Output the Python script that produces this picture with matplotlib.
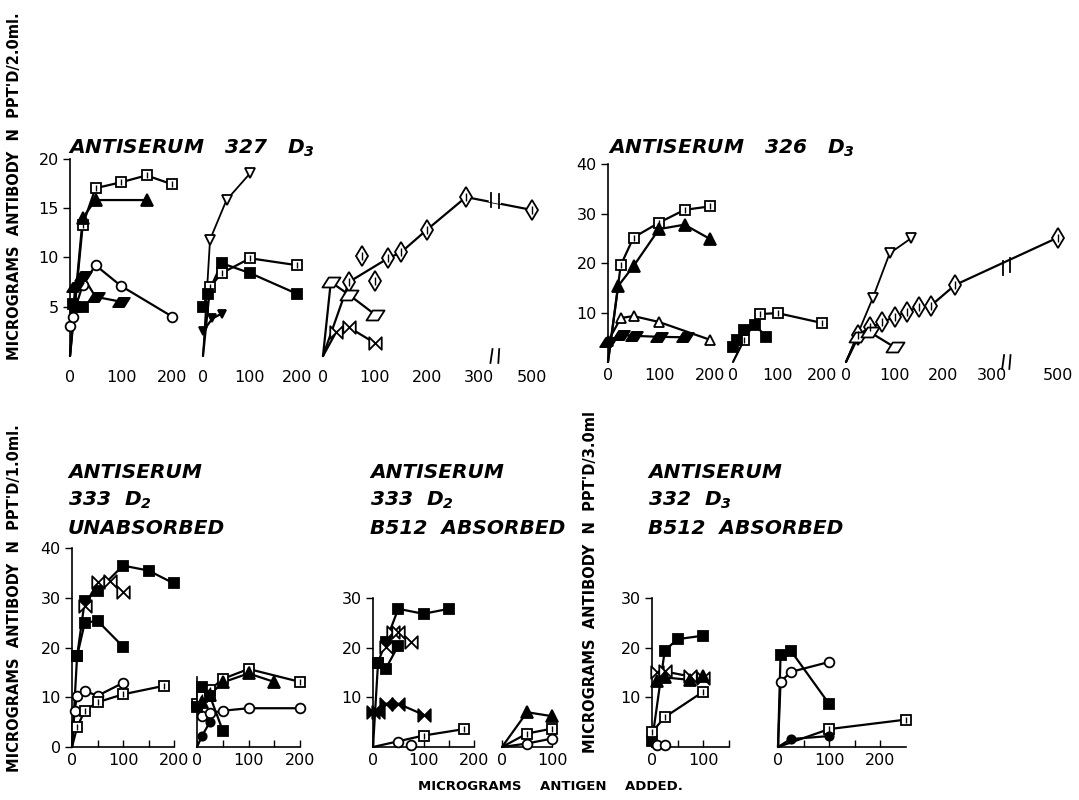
import numpy as np
import matplotlib
matplotlib.use("Agg")
import matplotlib.pyplot as plt
from matplotlib.path import Path

# ---------------- data ----------------
# Antiserum 327 D3 -- sub-panel 1
tl1_dsq_x = [0, 25, 50, 100, 150, 200]
tl1_dsq_y = [0, 13.3, 17.0, 17.6, 18.3, 17.4]
tl1_tri_x = [0, 25, 50, 150]
tl1_tri_y = [0, 14.0, 15.8, 15.8]
tl1_circ_x = [0, 5, 25, 50, 100, 200]
tl1_circ_y = [3.0, 4.0, 7.2, 9.2, 7.1, 4.0]
tl1_fpar_x = [0, 10, 25, 50, 100]
tl1_fpar_y = [0, 7.0, 8.1, 6.0, 5.5]
tl1_fsq_x = [5, 10, 25]
tl1_fsq_y = [5.3, 5.0, 5.0]
# sub-panel 2
tl2_tridn_x = [0, 15, 50, 100]
tl2_tridn_y = [0, 11.8, 15.8, 18.5]
tl2_dsq_x = [0, 15, 40, 100, 200]
tl2_dsq_y = [0, 7.0, 8.4, 9.9, 9.2]
tl2_fsq_x = [0, 10, 40, 100, 200]
tl2_fsq_y = [5.0, 6.3, 9.4, 8.4, 6.3]
tl2_ftri_x = [0, 20, 40]
tl2_ftri_y = [2.5, 3.8, 4.3]
# sub-panel 3 (broken axis)
tl3_dia_x = [0, 50, 125, 150, 200, 275, 500]
tl3_dia_y = [0, 7.5, 9.9, 10.5, 12.8, 16.1, 14.8]
tl3_dia_off_x = [75, 100]
tl3_dia_off_y = [10.1, 7.6]
tl3_opar_x = [0, 15, 50, 100]
tl3_opar_y = [0, 7.5, 6.2, 4.2]
tl3_bow_x = [0, 25, 50, 100]
tl3_bow_y = [0, 2.4, 2.9, 1.3]

# Antiserum 326 D3
tr1_dsq_x = [0, 25, 50, 100, 150, 200]
tr1_dsq_y = [0, 19.6, 25.2, 28.2, 30.8, 31.5]
tr1_tri_x = [0, 20, 50, 100, 150, 200]
tr1_tri_y = [0, 15.4, 19.4, 26.9, 27.8, 24.9]
tr1_otri_x = [0, 25, 50, 100, 200]
tr1_otri_y = [4.2, 8.9, 9.3, 8.1, 4.5]
tr1_fpar_x = [0, 25, 50, 100, 150]
tr1_fpar_y = [4.0, 5.5, 5.3, 5.1, 5.0]
tr2_dsq_x = [0, 25, 60, 100, 200]
tr2_dsq_y = [0, 4.5, 9.7, 9.9, 7.9]
tr2_fsq_x = [0, 10, 25, 50, 75]
tr2_fsq_y = [3.0, 4.5, 6.5, 7.5, 5.0]
tr3_tridn_x = [0, 55, 90, 135]
tr3_tridn_y = [0, 12.9, 22.0, 25.1]
tr3_dia_x = [0, 25, 50, 75, 100, 125, 150, 175, 225, 500]
tr3_dia_y = [0, 5.5, 7.0, 8.0, 9.2, 10.1, 11.2, 11.4, 15.6, 25.2]
tr3_opar_x = [0, 25, 50, 100]
tr3_opar_y = [0, 5.0, 6.0, 3.0]

# Antiserum 333 D2 unabsorbed
bl1_fsq_x = [0, 10, 25, 50, 100, 150, 200]
bl1_fsq_y = [0, 18.3, 29.4, 31.4, 36.5, 35.5, 32.9]
bl1_bow_x = [25, 50, 75, 100]
bl1_bow_y = [28.4, 33.1, 33.4, 31.1]
bl1_hsq_x = [10, 25, 50, 100]
bl1_hsq_y = [18.3, 25.0, 25.4, 20.2]
bl1_circ_x = [0, 5, 10, 25, 50, 100]
bl1_circ_y = [0, 7.3, 10.3, 11.3, 10.3, 12.9]
bl1_dsq_x = [0, 10, 25, 50, 100, 180]
bl1_dsq_y = [0, 4.0, 7.3, 9.0, 10.6, 12.3]
bl2_dsq_x = [0, 10, 25, 50, 100, 200]
bl2_dsq_y = [8.6, 10.0, 11.5, 13.7, 15.7, 13.1]
bl2_tri_x = [10, 25, 50, 100, 150]
bl2_tri_y = [9.0, 10.5, 13.0, 14.8, 13.1]
bl2_circ_x = [10, 25, 50, 100, 200]
bl2_circ_y = [6.3, 6.8, 7.3, 7.8, 7.8]
bl2_fsq_x = [0, 10, 25, 50]
bl2_fsq_y = [8.0, 12.0, 10.3, 3.3]
bl2_fcirc_x = [0, 10, 25]
bl2_fcirc_y = [0, 2.3, 5.0]

# Antiserum 333 D2 B512 absorbed
bm1_fsq_x = [0, 10, 25, 50, 100, 150]
bm1_fsq_y = [0, 17.0, 21.1, 27.8, 26.8, 27.8]
bm1_bow_x = [25, 40, 50, 75]
bm1_bow_y = [20.1, 23.1, 23.2, 21.1]
bm1_hsq_x = [10, 25, 50]
bm1_hsq_y = [17.0, 15.7, 20.4]
bm1_fbow_x = [0, 10, 25, 50, 100]
bm1_fbow_y = [7.0, 7.0, 8.7, 8.7, 6.5]
bm1_dsq_x = [0, 100, 180]
bm1_dsq_y = [0, 2.3, 3.6]
bm1_circ_x = [50, 75]
bm1_circ_y = [1.0, 0.5]
bm2_tri_x = [0, 50, 100]
bm2_tri_y = [0, 7.0, 6.2]
bm2_dsq_x = [0, 50, 100]
bm2_dsq_y = [0, 2.7, 3.7]
bm2_circ_x = [0, 50, 100]
bm2_circ_y = [0, 0.7, 1.7]

# Antiserum 332 D3 B512 absorbed
br1_fsq_x = [0, 25, 50, 100]
br1_fsq_y = [1.2, 19.4, 21.7, 22.4]
br1_bow_x = [10, 25, 75, 100]
br1_bow_y = [15.0, 15.2, 14.2, 13.8]
br1_tri_x = [10, 25, 75, 100]
br1_tri_y = [13.3, 14.0, 13.5, 14.3]
br1_dsq_x = [0, 25, 100]
br1_dsq_y = [3.0, 6.0, 11.1]
br1_circ_x = [10, 25]
br1_circ_y = [0.5, 0.5]
br2_fsq_x = [0, 5, 25, 100]
br2_fsq_y = [0, 18.5, 19.4, 8.7]
br2_circ_x = [0, 5, 25, 100]
br2_circ_y = [0, 13.1, 15.1, 17.1]
br2_dsq_x = [0, 100, 250]
br2_dsq_y = [0, 3.6, 5.5]
br2_fcirc_x = [0, 25, 100]
br2_fcirc_y = [0, 1.6, 2.2]

# ---------------- figure ----------------
W, H = 1079, 800
plt.rcParams['font.family'] = ['DejaVu Sans']
plt.rcParams['mathtext.fontset'] = 'custom'
plt.rcParams['mathtext.rm'] = 'DejaVu Sans:bold:italic'
plt.rcParams['mathtext.it'] = 'DejaVu Sans:bold:italic'
plt.rcParams['mathtext.bf'] = 'DejaVu Sans:bold:italic'
plt.rcParams['mathtext.default'] = 'rm'

fig = plt.figure(figsize=(W / 100, H / 100), dpi=100)
fig.patch.set_facecolor('white')

PAR = Path([(-1, -0.55), (0.3, -0.55), (1, 0.55), (-0.3, 0.55), (-1, -0.55)],
           [Path.MOVETO, Path.LINETO, Path.LINETO, Path.LINETO, Path.CLOSEPOLY])
BOW = Path([(-1, 1), (-1, -1), (1, 1), (1, -1), (-1, 1)],
           [Path.MOVETO, Path.LINETO, Path.LINETO, Path.LINETO, Path.CLOSEPOLY])

STYLES = {
    'dsq': dict(marker='s', mfc='white', inner=True, ms=7),
    'hsq': dict(marker='s', mfc='black', inner=False, ms=7),
    'fsq': dict(marker='s', mfc='black', inner=False, ms=7),
    'tri': dict(marker='^', mfc='black', inner=False, ms=8),
    'otri': dict(marker='^', mfc='white', inner=False, ms=7),
    'tridn': dict(marker='v', mfc='white', inner=False, ms=7),
    'ftri': dict(marker='v', mfc='black', inner=False, ms=6),
    'circ': dict(marker='o', mfc='white', inner=False, ms=7),
    'fcirc': dict(marker='o', mfc='black', inner=False, ms=6),
    'dia': dict(marker='d', mfc='white', inner=True, ms=10),
    'opar': dict(marker=PAR, mfc='white', inner=False, ms=13),
    'fpar': dict(marker=PAR, mfc='black', inner=False, ms=12),
    'bow': dict(marker=BOW, mfc='white', inner=False, ms=9),
    'fbow': dict(marker=BOW, mfc='black', inner=False, ms=9),
}


def draw(ax, xs, ys, style, line=True, lw=1.6):
    xs = np.asarray(xs, float)
    ys = np.asarray(ys, float)
    st = STYLES[style]
    if line:
        ax.plot(xs, ys, '-', color='black', lw=lw, clip_on=False, zorder=2,
                solid_capstyle='round')
    m = ~((xs == 0) & (ys == 0))
    ax.plot(xs[m], ys[m], ls='none', marker=st['marker'], ms=st['ms'],
            mfc=st['mfc'], mec='black', mew=1.3, clip_on=False, zorder=3)
    if st['inner']:
        ax.plot(xs[m], ys[m], ls='none', marker='|', ms=st['ms'] * 0.55,
                mec='black', mew=1.0, clip_on=False, zorder=4)


def make_break(b, k):
    def fwd(x):
        x = np.asarray(x, float)
        return np.where(x <= b, x, b + (x - b) * k)

    def inv(u):
        u = np.asarray(u, float)
        return np.where(u <= b, u, b + (u - b) / k)
    return fwd, inv


def panel(x0, sx, xmax, y0, sy, ymax, yticks=None, xticks=(0, 100, 200),
          xminor=None, bottom=True, left=True, brk=None, xpad=4):
    width = xmax * sx
    if brk is not None:
        fwd, inv = make_break(*brk)
        width = float(fwd(xmax)) * sx
    ax = fig.add_axes([x0 / W, 1 - y0 / H, width / W, ymax * sy / H])
    ax.patch.set_visible(False)
    if brk is not None:
        ax.set_xscale('function', functions=(fwd, inv))
    ax.set_xlim(0, xmax)
    ax.set_ylim(0, ymax)
    for s in ('top', 'right'):
        ax.spines[s].set_visible(False)
    ax.spines['left'].set_visible(left)
    ax.spines['bottom'].set_visible(bottom)
    for s in ('left', 'bottom'):
        ax.spines[s].set_linewidth(1.2)
    ax.set_xticks(list(xticks))
    ax.set_xticklabels([str(t) for t in xticks])
    if xminor is not None:
        ax.set_xticks(list(xminor), minor=True)
    ax.tick_params(axis='x', which='both', direction='in', length=5 if bottom else 0,
                   width=1.0, pad=xpad, labelsize=11.5)
    if yticks is not None and left:
        ax.set_yticks(list(yticks))
        ax.set_yticklabels([str(t) for t in yticks])
        ax.tick_params(axis='y', direction='out', length=5, width=1.0, pad=3,
                       labelsize=11.5)
    else:
        ax.set_yticks([])
    return ax


def break_marks(ax, xs, ys, b, k):
    xa, xb = b - 6, b + 8 / k
    ya = float(np.interp(xa, xs, ys))
    yb = float(np.interp(xb, xs, ys))
    ymax = ax.get_ylim()[1]
    d = ymax * 0.035
    ax.plot([xa, xb], [ya, yb], color='white', lw=3.5, zorder=2.5, clip_on=False)
    for xx, yy in ((xa, ya), (xb, yb)):
        ax.plot([xx, xx], [yy - d, yy + d], color='black', lw=1.3, zorder=2.6,
                clip_on=False)
    for xx in (xa, xb):
        ax.plot([xx - 2, xx + 2], [-d, d], color='black', lw=1.3, clip_on=False)


# ---- Antiserum 327 D3 ----
TLY0, TLSY = 356, 9.87
a = panel(70, 0.51, 200, TLY0, TLSY, 20, yticks=(5, 10, 15, 20), bottom=False, xpad=10)
draw(a, tl1_dsq_x, tl1_dsq_y, 'dsq')
draw(a, tl1_tri_x, tl1_tri_y, 'tri')
draw(a, tl1_circ_x, tl1_circ_y, 'circ')
draw(a, tl1_fpar_x, tl1_fpar_y, 'fpar')
draw(a, tl1_fsq_x, tl1_fsq_y, 'fsq')

a = panel(203, 0.47, 200, TLY0, TLSY, 20, left=False, bottom=False, xpad=10)
draw(a, tl2_tridn_x, tl2_tridn_y, 'tridn', lw=1.3)
draw(a, tl2_dsq_x, tl2_dsq_y, 'dsq')
draw(a, tl2_fsq_x, tl2_fsq_y, 'fsq')
draw(a, tl2_ftri_x, tl2_ftri_y, 'ftri')

B1, K1 = 330, 0.42
a = panel(323, 0.52, 500, TLY0, TLSY, 20, left=False, bottom=False,
          xticks=(0, 100, 200, 300, 500), brk=(B1, K1), xpad=10)
draw(a, tl3_dia_x, tl3_dia_y, 'dia')
draw(a, tl3_dia_off_x, tl3_dia_off_y, 'dia', line=False)
draw(a, tl3_opar_x, tl3_opar_y, 'opar')
draw(a, tl3_bow_x, tl3_bow_y, 'bow')
break_marks(a, tl3_dia_x, tl3_dia_y, B1, K1)

# ---- Antiserum 326 D3 ----
TRY0, TRSY = 362, 4.94
a = panel(608, 0.51, 200, TRY0, TRSY, 40, yticks=(10, 20, 30, 40), bottom=False, xpad=4)
draw(a, tr1_dsq_x, tr1_dsq_y, 'dsq')
draw(a, tr1_tri_x, tr1_tri_y, 'tri')
draw(a, tr1_otri_x, tr1_otri_y, 'otri')
draw(a, tr1_fpar_x, tr1_fpar_y, 'fpar')

a = panel(733, 0.445, 200, TRY0, TRSY, 40, left=False, bottom=False, xpad=4)
draw(a, tr2_dsq_x, tr2_dsq_y, 'dsq')
draw(a, tr2_fsq_x, tr2_fsq_y, 'fsq')

B2, K2 = 330, 0.63
a = panel(846, 0.485, 500, TRY0, TRSY, 40, left=False, bottom=False,
          xticks=(0, 100, 200, 300, 500), brk=(B2, K2), xpad=4)
draw(a, tr3_tridn_x, tr3_tridn_y, 'tridn', lw=1.3)
draw(a, tr3_dia_x, tr3_dia_y, 'dia')
draw(a, tr3_opar_x, tr3_opar_y, 'opar')
break_marks(a, tr3_dia_x, tr3_dia_y, B2, K2)

# ---- Antiserum 333 D2 unabsorbed ----
BY0, BSY = 747, 4.97
a = panel(72, 0.51, 200, BY0, BSY, 40, yticks=(0, 10, 20, 30, 40), xminor=(50, 150))
draw(a, bl1_fsq_x, bl1_fsq_y, 'fsq')
draw(a, bl1_bow_x, bl1_bow_y, 'bow')
draw(a, bl1_hsq_x, bl1_hsq_y, 'hsq')
draw(a, bl1_circ_x, bl1_circ_y, 'circ')
draw(a, bl1_dsq_x, bl1_dsq_y, 'dsq')

a = panel(197, 0.515, 200, BY0, BSY, 40, left=True, xminor=(50, 150))
a.spines['left'].set_bounds(0, 14)
draw(a, bl2_dsq_x, bl2_dsq_y, 'dsq')
draw(a, bl2_tri_x, bl2_tri_y, 'tri')
draw(a, bl2_circ_x, bl2_circ_y, 'circ')
draw(a, bl2_fsq_x, bl2_fsq_y, 'fsq')
draw(a, bl2_fcirc_x, bl2_fcirc_y, 'fcirc')

# ---- Antiserum 333 D2 B512 absorbed ----
a = panel(373, 0.505, 200, BY0, BSY, 30, yticks=(10, 20, 30), xminor=(50, 150))
draw(a, bm1_fsq_x, bm1_fsq_y, 'fsq')
draw(a, bm1_bow_x, bm1_bow_y, 'bow')
draw(a, bm1_hsq_x, bm1_hsq_y, 'hsq')
draw(a, bm1_fbow_x, bm1_fbow_y, 'fbow')
draw(a, bm1_dsq_x, bm1_dsq_y, 'dsq')
draw(a, bm1_circ_x, bm1_circ_y, 'circ', line=False)

a = panel(502, 0.50, 100, BY0, BSY, 30, left=False, xticks=(0, 100), xminor=(50,))
draw(a, bm2_tri_x, bm2_tri_y, 'tri')
draw(a, bm2_dsq_x, bm2_dsq_y, 'dsq')
draw(a, bm2_circ_x, bm2_circ_y, 'circ')

# ---- Antiserum 332 D3 B512 absorbed ----
a = panel(652, 0.51, 150, BY0, BSY, 30, yticks=(10, 20, 30), xticks=(0, 100),
          xminor=(50, 150))
draw(a, br1_fsq_x, br1_fsq_y, 'fsq')
draw(a, br1_bow_x, br1_bow_y, 'bow')
draw(a, br1_tri_x, br1_tri_y, 'tri')
draw(a, br1_dsq_x, br1_dsq_y, 'dsq')
draw(a, br1_circ_x, br1_circ_y, 'circ', line=False)

a = panel(778, 0.51, 250, BY0, BSY, 30, left=False, xticks=(0, 100, 200),
          xminor=(50, 150))
draw(a, br2_fsq_x, br2_fsq_y, 'fsq')
draw(a, br2_circ_x, br2_circ_y, 'circ')
draw(a, br2_dsq_x, br2_dsq_y, 'dsq')
draw(a, br2_fcirc_x, br2_fcirc_y, 'fcirc')

# ---------------- text ----------------
def ftext(x, y, s, **kw):
    fig.text(x / W, 1 - y / H, s, **kw)

TK = dict(fontsize=14.5, fontweight='bold', fontstyle='italic', va='center', ha='left')
ftext(68, 148, 'ANTISERUM   327   D$_3$', **TK)
ftext(608, 148, 'ANTISERUM   326   D$_3$', **TK)
for x0, lines in ((68, ('ANTISERUM', '333  D$_2$', 'UNABSORBED')),
                  (370, ('ANTISERUM', '333  D$_2$', 'B512  ABSORBED')),
                  (648, ('ANTISERUM', '332  D$_3$', 'B512  ABSORBED'))):
    for i, s in enumerate(lines):
        ftext(x0, 472 + 28 * i, s, **TK)

YL = dict(fontsize=10.5, fontweight='bold', rotation=90, va='center', ha='center')
ftext(15, 186, "MICROGRAMS  ANTIBODY  N  PPT'D/2.0ml.", **YL)
ftext(15, 598, "MICROGRAMS  ANTIBODY  N  PPT'D/1.0ml.", **YL)
ftext(590, 582, "MICROGRAMS  ANTIBODY  N  PPT'D/3.0ml", **YL)
ftext(550, 786, 'MICROGRAMS    ANTIGEN    ADDED.', fontsize=9.5, fontweight='bold',
      ha='center', va='center')

fig.savefig('out.png', dpi=100, facecolor='white')
